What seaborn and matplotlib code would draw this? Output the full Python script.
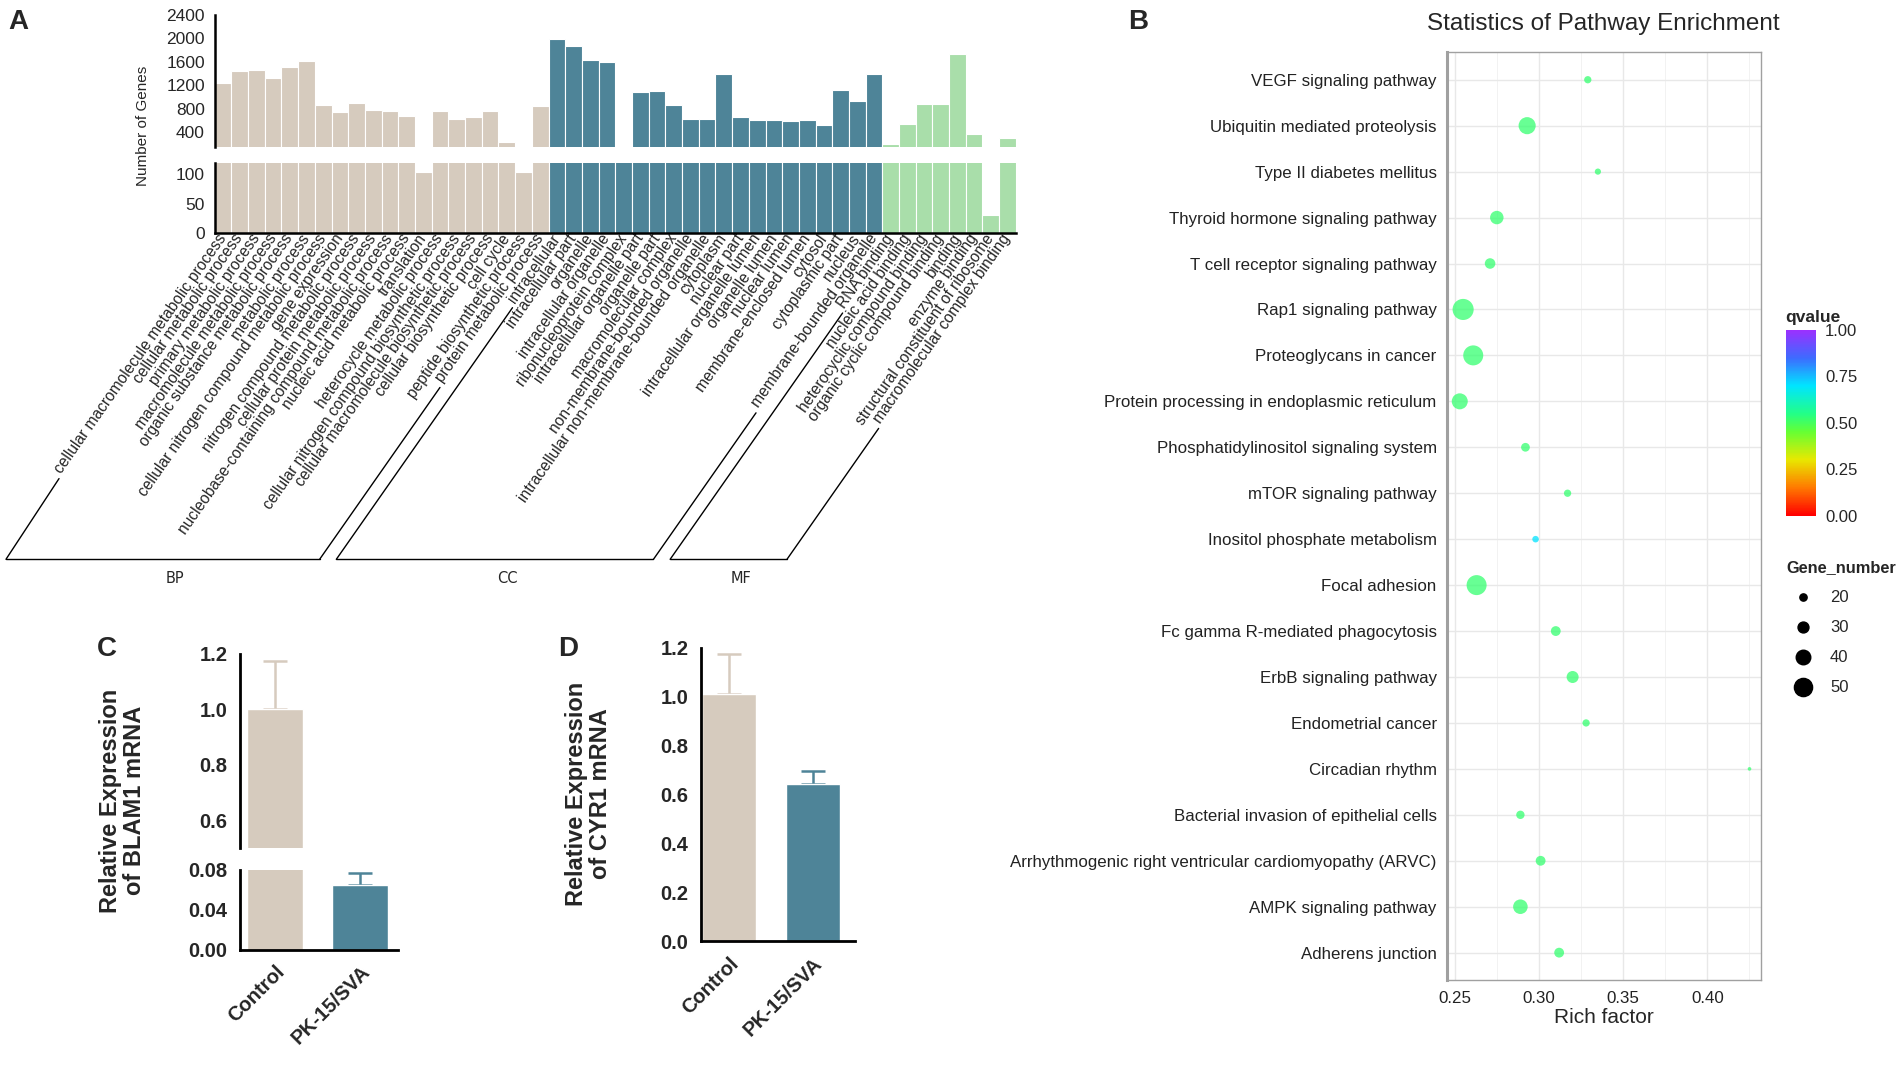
import numpy as np
import pandas as pd
import seaborn as sns
import matplotlib.pyplot as plt
import matplotlib.colors as mcolors
from matplotlib.lines import Line2D

sns.set_theme(style="white")
plt.rcParams['font.family'] = ['Liberation Sans', 'DejaVu Sans']

#===============================================================================
#     Data
#===============================================================================
bp_terms = ["cellular macromolecule metabolic process", "cellular metabolic process",
            "primary metabolic process", "macromolecule metabolic process",
            "organic substance metabolic process", "metabolic process",
            "cellular nitrogen compound metabolic process", "gene expression",
            "nitrogen compound metabolic process", "cellular protein metabolic process",
            "nucleobase-containing compound metabolic process", "nucleic acid metabolic process",
            "translation", "heterocycle metabolic process",
            "cellular nitrogen compound biosynthetic process", "cellular macromolecule biosynthetic process",
            "cellular biosynthetic process", "cell cycle",
            "peptide biosynthetic process", "protein metabolic process"]
bp_genes = [1243, 1445, 1462, 1316, 1507, 1613, 861, 737, 889, 782,
            754, 681, 104, 760, 625, 653, 760, 237, 104, 849]

cc_terms = ["intracellular", "intracellular part", "organelle", "intracellular organelle",
            "ribonucleoprotein complex", "intracellular organelle part", "organelle part",
            "macromolecular complex", "non-membrane-bounded organelle",
            "intracellular non-membrane-bounded organelle", "cytoplasm", "nuclear part",
            "intracellular organelle lumen", "organelle lumen", "nuclear lumen",
            "membrane-enclosed lumen", "cytosol", "cytoplasmic part", "nucleus",
            "membrane-bounded organelle"]
cc_genes = [1979, 1872, 1619, 1591, 140, 1074, 1097, 861, 630, 630,
            1389, 653, 613, 613, 586, 613, 524, 1113, 934, 1389]

mf_terms = ["RNA binding", "nucleic acid binding", "heterocyclic compound binding",
            "organic cyclic compound binding", "binding", "enzyme binding",
            "structural constituent of ribosome", "macromolecular complex binding"]
mf_genes = [190, 540, 870, 870, 1730, 360, 31, 300]

kegg_pathways = ["VEGF signaling pathway", "Ubiquitin mediated proteolysis",
                 "Type II diabetes mellitus", "Thyroid hormone signaling pathway",
                 "T cell receptor signaling pathway", "Rap1 signaling pathway",
                 "Proteoglycans in cancer", "Protein processing in endoplasmic reticulum",
                 "Phosphatidylinositol signaling system", "mTOR signaling pathway",
                 "Inositol phosphate metabolism", "Focal adhesion",
                 "Fc gamma R-mediated phagocytosis", "ErbB signaling pathway",
                 "Endometrial cancer", "Circadian rhythm",
                 "Bacterial invasion of epithelial cells",
                 "Arrhythmogenic right ventricular cardiomyopathy (ARVC)",
                 "AMPK signaling pathway", "Adherens junction"]
kegg_rich = [0.329, 0.293, 0.335, 0.275, 0.271, 0.255, 0.261, 0.253, 0.292, 0.317,
             0.298, 0.263, 0.310, 0.320, 0.328, 0.425, 0.289, 0.301, 0.289, 0.312]
kegg_genes = [20, 47, 17, 37, 29, 58, 55, 44, 24, 20,
              18, 55, 27, 33, 20, 10, 23, 27, 40, 27]
kegg_q = [0.52, 0.52, 0.52, 0.52, 0.52, 0.52, 0.52, 0.52, 0.52, 0.52,
          0.70, 0.52, 0.52, 0.52, 0.52, 0.52, 0.52, 0.52, 0.52, 0.52]

groups = ["Control", "PK-15/SVA"]
blam1_mean = [1.0, 0.065]
blam1_err = [0.175, 0.012]
cyr1_mean = [1.01, 0.645]
cyr1_err = [0.165, 0.05]

c_beige = "#D6CBBE"
c_teal = "#4E8498"
c_green = "#A9DEAA"

#===============================================================================
#     Layout helpers (coordinates measured on a 1568 x 882 view of the reference)
#===============================================================================
S = 1568.0
T = 882.0
def box(x0, y0, x1, y1):
    return [x0 / S, 1 - y1 / T, (x1 - x0) / S, (y1 - y0) / T]

fig = plt.figure(figsize=(19.02, 10.70), dpi=100)
fig.patch.set_facecolor("white")

#===============================================================================
#     Panel A - GO bar chart with broken axis
#===============================================================================
go = pd.DataFrame({"term": bp_terms + cc_terms + mf_terms,
                   "genes": bp_genes + cc_genes + mf_genes,
                   "cat": ["BP"] * len(bp_terms) + ["CC"] * len(cc_terms) + ["MF"] * len(mf_terms)})
pal = {"BP": c_beige, "CC": c_teal, "MF": c_green}
a_right = 177 + len(go) * 13.76

axA1 = fig.add_axes(box(177, 12, a_right, 121))
axA2 = fig.add_axes(box(177, 134, a_right, 192))
for ax in (axA1, axA2):
    sns.barplot(data=go, x="term", y="genes", hue="cat", palette=pal, dodge=False, width=1.0,
                saturation=1, edgecolor="white", linewidth=0.8, legend=False, ax=ax)
    ax.set_xlim(-0.5, len(go) - 0.5)
    ax.set_xlabel("")
    ax.set_ylabel("")
    for s in ["top", "right"]:
        ax.spines[s].set_visible(False)
    ax.spines["left"].set_linewidth(1.8)
    ax.spines["left"].set_color("black")
    ax.tick_params(axis="y", length=5, width=1.8, color="black", labelsize=12.5, pad=2)

axA1.set_ylim(150, 2400)
axA1.set_yticks([150, 400, 800, 1200, 1600, 2000, 2400])
axA1.set_yticklabels(["", "400", "800", "1200", "1600", "2000", "2400"])
axA1.spines["bottom"].set_visible(False)
axA1.set_xticks([])

axA2.set_ylim(0, 120)
axA2.set_yticks([0, 50, 100, 120])
axA2.set_yticklabels(["0", "50", "100", ""])
axA2.spines["bottom"].set_linewidth(1.8)
axA2.spines["bottom"].set_color("black")
axA2.tick_params(axis="x", length=0, pad=2)
plt.setp(axA2.get_xticklabels(), rotation=55, ha="right", va="center",
         rotation_mode="anchor", fontsize=11.2)

fig.text(118 / S, 1 - 104 / T, "Number of Genes", rotation=90, ha="center", va="center", fontsize=11)

# bracket lines below the GO term labels
fig.canvas.draw()
rend = fig.canvas.get_renderer()
labs = axA2.get_xticklabels()
th = np.deg2rad(55)
yb = (1 - 461 / T) * fig.bbox.height
n_bp, n_cc = len(bp_terms), len(cc_terms)
spans = [(0, n_bp - 1, "BP"), (n_bp, n_bp + n_cc - 1, "CC"), (n_bp + n_cc, len(go) - 1, "MF")]
inv = fig.transFigure.inverted()
for i0, i1, name in spans:
    cx = []
    for i in (i0, i1):
        bb = labs[i].get_window_extent(rend)
        fs = labs[i].get_fontsize() * fig.dpi / 72
        sx = bb.x0 + 0.72 * fs * np.sin(th)
        sy = bb.y0
        gx, gy = sx - 3 * np.cos(th), sy - 3 * np.sin(th)
        c = max(gx - (gy - yb) / np.tan(th), 6)
        cx.append(c)
        p = inv.transform([(c, yb), (gx, gy)])
        fig.add_artist(Line2D(p[:, 0], p[:, 1], color="black", lw=1.0))
    p = inv.transform([(cx[0], yb), (cx[1], yb)])
    fig.add_artist(Line2D(p[:, 0], p[:, 1], color="black", lw=1.0))
    fig.text((p[0, 0] + p[1, 0]) / 2 + 10 / S, 1 - 477 / T, name, ha="center", va="center",
             fontsize=10.5, family="DejaVu Sans")

#===============================================================================
#     Panel B - KEGG bubble chart
#===============================================================================
narrow = ["Liberation Sans Narrow", "Liberation Sans", "DejaVu Sans"]
kegg = pd.DataFrame({"pathway": kegg_pathways, "rich": kegg_rich,
                     "genes": kegg_genes, "q": kegg_q})
qcmap = mcolors.LinearSegmentedColormap.from_list(
    "q", [(0.0, "#FF0000"), (0.15, "#FF7A00"), (0.3, "#E8E800"), (0.45, "#66FF33"),
          (0.55, "#22FF88"), (0.7, "#00E5FF"), (0.85, "#3D6BFF"), (1.0, "#9B30FF")])
size_norm = mcolors.PowerNorm(gamma=2, vmin=0, vmax=60)
max_area = 247

axB = fig.add_axes(box(1193, 43, 1452, 808))
axB.set_axisbelow(True)
sns.scatterplot(data=kegg, x="rich", y="pathway", hue="q", size="genes", palette=qcmap,
                hue_norm=(0, 1), sizes=(0, max_area), size_norm=size_norm, alpha=0.75,
                linewidth=0, legend=False, ax=axB, zorder=3)
axB.set_xlim(0.2455, 0.432)
axB.set_ylim(len(kegg_pathways) - 0.4, -0.6)
axB.set_xticks([0.25, 0.30, 0.35, 0.40])
axB.set_xticklabels(["0.25", "0.30", "0.35", "0.40"])
axB.set_xticks([0.275, 0.325, 0.375, 0.425], minor=True)
axB.grid(True, which="major", color="#E8E8E8", lw=1.0)
axB.grid(True, which="minor", axis="x", color="#F2F2F2", lw=0.7)
for s in axB.spines.values():
    s.set_color("#A0A0A0")
    s.set_linewidth(1.0)
axB.spines["left"].set_linewidth(2.2)
axB.tick_params(axis="both", which="major", length=4, width=1.3, color="#333333",
                labelsize=12.2, labelcolor="#222222")
axB.tick_params(axis="both", which="minor", length=0)
for t in axB.get_yticklabels() + axB.get_xticklabels():
    t.set_family(narrow)
axB.set_ylabel("")
axB.set_xlabel("Rich factor", fontsize=15, family=narrow, labelpad=2)
fig.text(1322 / S, 1 - 20 / T, "Statistics of Pathway Enrichment", ha="center", va="center",
         fontsize=17.5, family=narrow)

cax = fig.add_axes(box(1472, 272, 1497, 425))
cb = fig.colorbar(plt.cm.ScalarMappable(norm=mcolors.Normalize(0, 1), cmap=qcmap),
                  cax=cax, ticks=[0, 0.25, 0.5, 0.75, 1.0])
cb.outline.set_visible(False)
cb.ax.set_yticklabels(["0.00", "0.25", "0.50", "0.75", "1.00"], family=narrow)
cb.ax.tick_params(length=3, color="white", labelsize=12)
fig.text(1472 / S, 1 - 262 / T, "qvalue", ha="left", va="center", fontsize=12.5,
         fontweight="bold", family=narrow)

leg_n = [20, 30, 40, 50]
handles = [Line2D([], [], marker="o", ls="", color="black",
                  markersize=np.sqrt(max_area * float(size_norm(n)))) for n in leg_n]
leg = axB.legend(handles, [str(n) for n in leg_n], title="Gene_number", frameon=False,
                 loc="upper left", bbox_to_anchor=(1462 / S, 1 - 451 / T),
                 bbox_transform=fig.transFigure, labelspacing=0.9, handletextpad=0.6,
                 borderpad=0.3, prop={"family": narrow, "size": 12},
                 title_fontproperties={"family": narrow, "weight": "bold", "size": 11.8})
leg._legend_box.align = "left"

#===============================================================================
#     Panels C and D - qPCR bars
#===============================================================================
bar_cols = [c_beige, c_teal]

def style_bar_axis(ax):
    for s in ["top", "right"]:
        ax.spines[s].set_visible(False)
    for s in ["left", "bottom"]:
        ax.spines[s].set_linewidth(2.0)
        ax.spines[s].set_color("black")
    ax.tick_params(axis="both", length=6, width=2.0, color="black", labelsize=14.5, pad=3)
    for t in ax.get_yticklabels() + ax.get_xticklabels():
        t.set_fontweight("bold")
    ax.set_xlabel("")
    ax.set_ylabel("")

def draw_bars(ax, means, errs, width):
    df = pd.DataFrame({"group": groups, "value": means})
    sns.barplot(data=df, x="group", y="value", hue="group", palette=bar_cols, saturation=1,
                width=width, legend=False, ax=ax, zorder=2)
    # error bars sit behind the bars so only the upper half shows
    for i in range(len(groups)):
        ax.errorbar(i, means[i], yerr=[[0], [errs[i]]], fmt="none", ecolor=bar_cols[i],
                    elinewidth=1.8, capsize=8.5, capthick=1.8, zorder=1)

# C: broken axis
axC1 = fig.add_axes(box(198, 539, 328.5, 699))
axC2 = fig.add_axes(box(198, 717, 328.5, 783))
for ax in (axC1, axC2):
    draw_bars(ax, blam1_mean, blam1_err, 0.66)
    ax.set_xlim(-0.414, 1.45)
axC1.set_ylim(0.5, 1.2)
axC1.set_yticks([0.5, 0.6, 0.8, 1.0, 1.2])
axC1.set_yticklabels(["", "0.6", "0.8", "1.0", "1.2"])
axC1.set_xticks([])
style_bar_axis(axC1)
axC1.spines["bottom"].set_visible(False)
axC2.set_ylim(0, 0.08)
axC2.set_yticks([0, 0.04, 0.08])
axC2.set_yticklabels(["0.00", "0.04", "0.08"])
style_bar_axis(axC2)
plt.setp(axC2.get_xticklabels(), rotation=45, ha="right", rotation_mode="anchor")
fig.text(101 / S, 1 - 660 / T, "Relative Expression\nof BLAM1 mRNA", rotation=90, ha="center",
         va="center", fontsize=17, fontweight="bold", linespacing=1.05)

# D
axD = fig.add_axes(box(578, 534, 704.5, 776))
draw_bars(axD, cyr1_mean, cyr1_err, 0.645)
axD.set_xlim(-0.333, 1.5)
axD.set_ylim(0, 1.2)
axD.set_yticks([0, 0.2, 0.4, 0.6, 0.8, 1.0, 1.2])
axD.set_yticklabels(["0.0", "0.2", "0.4", "0.6", "0.8", "1.0", "1.2"])
style_bar_axis(axD)
plt.setp(axD.get_xticklabels(), rotation=45, ha="right", rotation_mode="anchor")
fig.text(485 / S, 1 - 654 / T, "Relative Expression\nof CYR1 mRNA", rotation=90, ha="center",
         va="center", fontsize=17, fontweight="bold", linespacing=1.05)

#===============================================================================
#     Panel letters
#===============================================================================
for lab, x, y in [("A", 15, 18), ("B", 938, 18), ("C", 88, 535), ("D", 468, 535)]:
    fig.text(x / S, 1 - y / T, lab, ha="center", va="center", fontsize=20, fontweight="bold")

fig.savefig("out.png", dpi=100, facecolor="white")
